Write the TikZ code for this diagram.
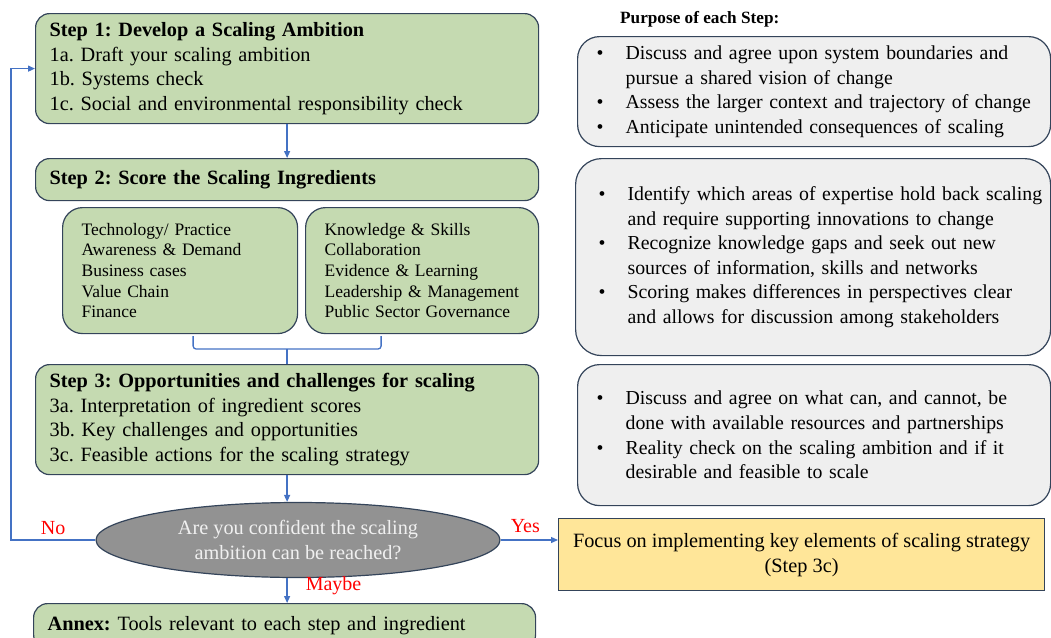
\documentclass[tikz,border=0pt]{standalone}
\usepackage{fontspec}
\setmainfont{Liberation Serif}
\usetikzlibrary{shapes.geometric,arrows.meta,calc}

\definecolor{stepgreen}{HTML}{C5DAB1}
\definecolor{edgeblue}{HTML}{4472C4}
\definecolor{boxline}{HTML}{34445A}
\definecolor{purposegray}{HTML}{EFEFEF}
\definecolor{askgray}{HTML}{929292}
\definecolor{focusyellow}{HTML}{FFE699}

\newcommand{\pitem}[1]{\mbox{\makebox[33pt][l]{\hspace{4pt}\textbullet}#1}}
\newcommand{\pcont}[1]{\mbox{\hspace*{33pt}#1}}

\tikzset{
  stepbox/.style={draw=boxline, fill=stepgreen, line width=1.2pt, rounded corners=14pt,
    anchor=north west, align=left, inner xsep=14pt, inner ysep=0pt,
    font=\fontsize{20.3}{24.5}\selectfont},
  ingbox/.style={stepbox, rounded corners=20pt, inner xsep=19pt,
    font=\fontsize{17.5}{20.6}\selectfont},
  purposebox/.style={draw=boxline, fill=purposegray, line width=1.2pt, rounded corners=22pt,
    anchor=north west, align=left, inner xsep=15pt, inner ysep=0pt,
    font=\fontsize{19.8}{24.6}\selectfont},
  flow/.style={draw=edgeblue, line width=1.3pt, -{Triangle[length=7pt,width=6pt]}},
  brace/.style={draw=edgeblue, line width=1.3pt, rounded corners=3pt},
  lbl/.style={text=red, font=\fontsize{20}{24}\selectfont, inner sep=3pt},
}

\begin{document}
\frenchspacing
\begin{tikzpicture}[x=1pt,y=-1pt]
  \useasboundingbox (0,0) rectangle (1051,637);

  % the steps
  \node[stepbox, text width=475pt, minimum height=110pt] (s1) at (35,13)
    {\textbf{Step 1: Develop a Scaling Ambition}\\1a. Draft your scaling ambition\\1b. Systems check\\1c. Social and environmental responsibility check};
  \node[stepbox, text width=475pt, minimum height=42pt] (s2) at (35,158)
    {\textbf{Step 2: Score the Scaling Ingredients}};
  \node[ingbox, text width=197pt, minimum height=126pt] (ingl) at (62,207)
    {Technology/ Practice\\Awareness \& Demand\\Business cases\\Value Chain\\Finance};
  \node[ingbox, text width=195pt, minimum height=126pt] (ingr) at (305,207)
    {Knowledge \& Skills\\Collaboration\\Evidence \& Learning\\Leadership \& Management\\Public Sector Governance};
  \node[stepbox, text width=475pt, minimum height=110pt] (s3) at (35,364)
    {\textbf{Step 3: Opportunities and challenges for scaling}\\3a. Interpretation of ingredient scores\\3b. Key challenges and opportunities\\3c. Feasible actions for the scaling strategy};
  \node[ellipse, draw=boxline, fill=askgray, line width=1.2pt, minimum width=404pt, minimum height=75pt,
    inner sep=0pt, align=center, text=gray!12, font=\fontsize{20.3}{24.5}\selectfont] (q) at (298,540)
    {Are you confident the scaling\\ambition can be reached?};
  \node[draw=boxline, fill=focusyellow, line width=1.2pt, minimum width=486pt, minimum height=72pt,
    anchor=north west, align=center, font=\fontsize{20.3}{25}\selectfont] (go) at (558,518)
    {Focus on implementing key elements of scaling strategy\\(Step 3c)};
  \node[stepbox, text width=474pt, minimum height=45pt] (annex) at (33,603)
    {\textbf{Annex:} Tools relevant to each step and ingredient};

  % purpose column
  \node[anchor=west, inner sep=0pt, font=\bfseries\fontsize{17.2}{20}\selectfont] (purp) at (620,19) {Purpose of each Step:};
  \node[purposebox, text width=443pt, minimum height=110pt] (p1) at (577,36)
    {\pitem{Discuss and agree upon system boundaries and}\\\pcont{pursue a shared vision of change}\\\pitem{Assess the larger context and trajectory of change}\\\pitem{Anticipate unintended consequences of scaling}\\[3pt]};
  \node[purposebox, text width=437pt, inner xsep=19pt, minimum height=197pt, rounded corners=26pt] (p2) at (575,158)
    {\pitem{Identify which areas of expertise hold back scaling}\\\pcont{and require supporting innovations to change}\\\pitem{Recognize knowledge gaps and seek out new}\\\pcont{sources of information, skills and networks}\\\pitem{Scoring makes differences in perspectives clear}\\\pcont{and allows for discussion among stakeholders}\\[13pt]};
  \node[purposebox, text width=443pt, minimum height=141pt] (p3) at (577,364)
    {\pitem{Discuss and agree on what can, and cannot, be}\\\pcont{done with available resources and partnerships}\\\pitem{Reality check on the scaling ambition and if it}\\\pcont{desirable and feasible to scale}\\[13pt]};

  % connectors
  \draw[flow] (s1.south) -- (s2.north);
  \coordinate (bl) at ($(ingl.south)+(13,2)$);
  \coordinate (br) at ($(ingr.south)+(-41,2)$);
  \coordinate (bm) at ($(s3.north)+(0,-15)$);
  \draw[brace] (bl) |- (bm) -| (br);
  \draw[brace] (bm) -- (s3.north);
  \draw[flow] (s3.south) -- (s3.south |- q.north);
  \coordinate (loop) at (11,540);
  \draw[flow] (q.west) -- node[lbl, above=2pt]{No} (loop) |- (s1.west);
  \draw[flow] (q.east) -- node[lbl, above=4pt, xshift=-4pt]{Yes} (q.east -| go.west);
  \draw[flow] (s3.south |- q.south) -- node[lbl, pos=0.3, right=15pt]{Maybe} (s3.south |- annex.north);
\end{tikzpicture}
\end{document}
